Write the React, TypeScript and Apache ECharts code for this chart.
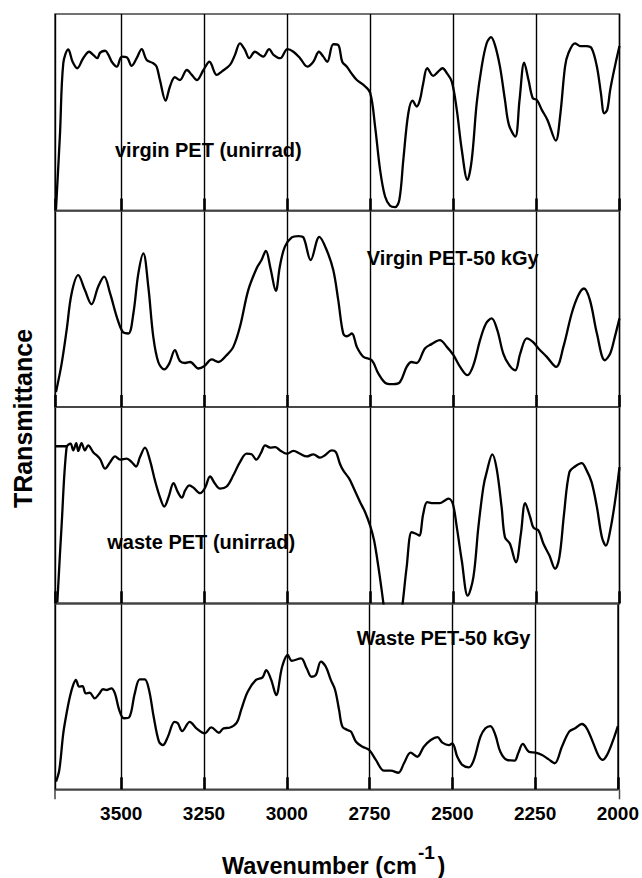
import React, { useEffect, useRef } from "react";
import * as echarts from "echarts";

// FTIR transmittance spectra, wavenumber (cm-1) vs relative transmittance (0-100 per panel)
const virginUnirrad: [number, number][] = [
  [3697, 0.7], [3685, 39], [3675, 75], [3660, 82], [3647, 75.7], [3633, 72.4], [3615, 77.5], [3597, 80.8],
  [3585, 79.2], [3573, 77.5], [3564, 80.3], [3549, 81.3], [3539, 79.2], [3529, 75.7], [3514, 73.2], [3499, 78.3],
  [3484, 78], [3469, 73.6], [3454, 77.5], [3439, 82.1], [3424, 76.6], [3404, 74.9], [3394, 73.2], [3384, 66.4],
  [3367, 55.9], [3354, 63], [3339, 67.8], [3324, 66.4], [3303, 71.5], [3288, 69], [3273, 66.4], [3253, 71.5],
  [3235, 75.7], [3213, 69], [3198, 70.7], [3173, 74.1], [3158, 79.2], [3143, 85.1], [3128, 81.7], [3115, 77.5],
  [3098, 80.8], [3083, 79.2], [3073, 78.3], [3055, 82.1], [3042, 79.2], [3022, 77.5], [3000, 82.1], [2982, 80.8],
  [2962, 77.5], [2940, 73.2], [2922, 75.7], [2905, 80.8], [2892, 78.3], [2880, 75.7], [2862, 84.6], [2847, 84.2],
  [2835, 75.7], [2821, 73.2], [2806, 69.5], [2791, 66.4], [2771, 63.9], [2751, 60], [2736, 42.7], [2721, 20.7],
  [2706, 7.1], [2691, 2.4], [2676, 1.7], [2663, 5.4], [2651, 25.8], [2636, 49.5], [2623, 55.9], [2611, 52.9],
  [2601, 56.3], [2591, 64.8], [2579, 72.4], [2561, 68.5], [2546, 70.7], [2533, 72.4], [2520, 69.9], [2505, 65.6],
  [2490, 51.2], [2475, 30.9], [2458, 15.6], [2445, 25.8], [2430, 54.6], [2415, 73.2], [2400, 85.1], [2387, 88.2],
  [2375, 84.2], [2360, 73.2], [2345, 56.3], [2333, 43.6], [2314, 37.6], [2301, 56.3], [2287, 75.2], [2274, 66.4],
  [2261, 57.1], [2249, 56.3], [2234, 51.2], [2217, 46.1], [2192, 35.6], [2179, 47.8], [2164, 73.2], [2154, 80],
  [2134, 85.1], [2119, 83.7], [2099, 83.7], [2084, 82.6], [2068, 73.2], [2056, 59.7], [2046, 49.5], [2037, 51.2],
  [2028, 61.4], [2014, 73.2], [2000, 83.7],
];

const virgin50kGy: [number, number][] = [
  [3697, 7.6], [3680, 22.1], [3665, 39.1], [3650, 57.8], [3630, 67.1], [3610, 59.5], [3590, 52.3], [3570, 61.2],
  [3552, 66.3], [3534, 57.8], [3514, 45.9], [3496, 38.2], [3479, 37.4], [3464, 47.6], [3449, 68], [3434, 78.2],
  [3419, 61.2], [3404, 35.7], [3389, 22.9], [3371, 19.1], [3356, 22.1], [3339, 28.9], [3324, 23.4], [3308, 22.4],
  [3293, 22.9], [3268, 19.6], [3251, 20.7], [3228, 24.2], [3208, 22.9], [3183, 26.4], [3163, 30.6], [3143, 40.8],
  [3118, 59.5], [3093, 70.5], [3078, 74.8], [3065, 79.5], [3051, 70.5], [3035, 59.1], [3023, 71.4], [3008, 81.5],
  [2987, 86.3], [2967, 87], [2952, 86.3], [2930, 74.8], [2904, 86.6], [2882, 79.9], [2862, 69.7], [2847, 54.4],
  [2832, 37.4], [2821, 36], [2806, 37.4], [2791, 30.6], [2771, 25.5], [2746, 23.8], [2726, 17], [2701, 11.9],
  [2681, 11.6], [2661, 12.7], [2641, 20.4], [2626, 22.9], [2611, 22.4], [2586, 29.8], [2566, 32], [2541, 34],
  [2520, 30.6], [2500, 26.4], [2480, 20.4], [2458, 16.2], [2440, 21.3], [2420, 34], [2402, 42.5], [2385, 45.1],
  [2368, 39.1], [2350, 27.2], [2332, 21.3], [2314, 18.7], [2299, 27.2], [2279, 34.9], [2261, 33.1], [2244, 29.8],
  [2219, 25.5], [2191, 20.4], [2169, 30.6], [2144, 47.6], [2124, 56.9], [2107, 60.3], [2089, 54.4], [2068, 37.4],
  [2044, 23.8], [2028, 27.2], [2014, 35.7], [2000, 45.1],
];

const wasteUnirrad: [number, number][] = [
  [3693, 0.5], [3680, 40], [3665, 79.6], [3653, 81.3], [3645, 77.9], [3636, 81.6], [3630, 77.6], [3620, 81.6],
  [3610, 77.9], [3600, 80.5], [3585, 77], [3565, 73.7], [3549, 68.6], [3534, 71.9], [3519, 74.8], [3504, 73.2],
  [3484, 73.7], [3469, 71.9], [3456, 69.7], [3444, 74.5], [3429, 79.3], [3414, 72.8], [3399, 62.6], [3384, 54.1],
  [3371, 49.3], [3358, 54.1], [3343, 61.2], [3330, 56.6], [3318, 53.8], [3308, 57.5], [3295, 60.1], [3283, 58.9],
  [3263, 56.1], [3248, 58.9], [3233, 64.6], [3218, 60.9], [3203, 58.4], [3183, 59.5], [3163, 65.2], [3143, 71.9],
  [3123, 76.2], [3108, 75.9], [3094, 73.2], [3080, 76.5], [3067, 80.5], [3052, 79.3], [3037, 79.6], [3022, 77.9],
  [3002, 76.2], [2982, 77.6], [2962, 76.2], [2942, 74.8], [2922, 75.9], [2902, 74.2], [2887, 75.4], [2867, 77.9],
  [2854, 77], [2842, 71.1], [2832, 67.7], [2814, 63.5], [2802, 59.2], [2781, 51.5], [2766, 46.4], [2751, 39.6],
  [2739, 32], [2726, 18.4], [2711, 0], [2697, -19], [2682, -29], [2667, -19], [2653, 0], [2641, 18.4],
  [2626, 36.2], [2613, 35.4], [2603, 34.5], [2591, 45.6], [2579, 51.5], [2561, 51], [2541, 51], [2526, 52.4],
  [2515, 53.3], [2502, 50.7], [2490, 38.8], [2475, 21.8], [2457, 3.9], [2440, 13.3], [2425, 38.8], [2410, 59.2],
  [2400, 66.8], [2383, 75.9], [2370, 68.6], [2355, 49], [2345, 33.7], [2330, 30.3], [2312, 20.9], [2297, 35.4],
  [2284, 51], [2269, 43.9], [2259, 38.5], [2244, 37.1], [2229, 30.3], [2211, 24.3], [2194, 17.6], [2181, 23.5],
  [2167, 45.6], [2151, 66.8], [2134, 69.7], [2114, 71.4], [2099, 67.7], [2084, 61.7], [2068, 49], [2053, 33.7],
  [2041, 29.4], [2028, 37.1], [2013, 52.4], [2000, 69.4],
];

// short flat segment at the start of the waste PET trace
const wasteUnirradStub: [number, number][] = [[3700, 80], [3662, 80]];

const waste50kGy: [number, number][] = [
  [3697, 4.1], [3687, 10.4], [3675, 30.1], [3665, 40.9], [3655, 49.8], [3645, 56.1], [3637, 58.8], [3627, 55.2],
  [3617, 55.5], [3607, 51.6], [3595, 51.9], [3580, 48.9], [3567, 51.2], [3555, 53.8], [3543, 53.4], [3530, 54.3],
  [3519, 51.6], [3506, 42.6], [3492, 38.2], [3476, 38.7], [3459, 51.6], [3444, 59.1], [3429, 59.1], [3416, 53.4],
  [3402, 39], [3386, 25.6], [3374, 23.8], [3359, 28.3], [3339, 36.3], [3329, 35.5], [3316, 31.3], [3293, 36.3],
  [3273, 32.8], [3248, 30.1], [3228, 33.3], [3205, 30.4], [3191, 32.8], [3173, 33.1], [3151, 35.8], [3138, 42.6],
  [3118, 52.5], [3093, 58.8], [3073, 60.2], [3062, 64.1], [3047, 58.8], [3032, 50.7], [3014, 65.9], [2997, 72.2],
  [2985, 69.1], [2957, 70.4], [2940, 65.1], [2925, 60.5], [2912, 61.5], [2897, 68.6], [2882, 65.9], [2867, 58.8],
  [2854, 53.4], [2842, 42.6], [2832, 33.7], [2817, 31.9], [2806, 31], [2791, 25.6], [2771, 22.9], [2751, 21.1],
  [2731, 15.8], [2706, 10], [2686, 10], [2663, 8.9], [2646, 14], [2626, 19.7], [2606, 17.5], [2586, 22.9],
  [2565, 26.5], [2545, 28], [2530, 25.1], [2510, 23.8], [2500, 24.7], [2485, 17.5], [2470, 13.1], [2450, 11.8],
  [2435, 15.8], [2415, 28.3], [2400, 32.8], [2385, 34], [2370, 29.2], [2355, 20.2], [2335, 15.8], [2312, 15.4],
  [2301, 19.4], [2287, 24.4], [2269, 20.2], [2249, 19.7], [2229, 18.4], [2209, 16.1], [2191, 14], [2169, 22.9],
  [2147, 31], [2129, 32.8], [2109, 35.1], [2094, 32.8], [2074, 24.7], [2058, 17.9], [2046, 15.8], [2033, 18.4],
  [2016, 25.6], [2000, 34],
];

const panelNames = ["virgin PET (unirrad)", "Virgin PET-50 kGy", "waste PET (unirrad)", "Waste PET-50 kGy"];
const WAVENUMBER_MIN = 2000;
const WAVENUMBER_MAX = 3700;
const WAVENUMBER_STEP = 250;

const FONT = "'Liberation Sans', Arial, Helvetica, sans-serif";
const GRID_LEFT = 55;
const GRID_RIGHT = 22.5;
const PANEL_TOPS = [14, 210.5, 407, 603.3];
const PANEL_HEIGHTS = [196.5, 196.5, 196.3, 186];
const LABEL_POS: [number, number][] = [[115, 150], [366.7, 258.3], [107.3, 541.7], [356.7, 638.3]];

export default function App() {
  const ref = useRef<HTMLDivElement>(null);

  useEffect(() => {
    if (!ref.current) return;
    const chart = echarts.init(ref.current, undefined, { renderer: "svg" });
    const spectra = [virginUnirrad, virgin50kGy, wasteUnirrad, waste50kGy];
    const last = spectra.length - 1;
    const bottom = PANEL_TOPS[last] + PANEL_HEIGHTS[last];
    const rightEdge = 642 - GRID_RIGHT;

    const grid = PANEL_TOPS.map((top, i) => ({
      left: GRID_LEFT,
      right: GRID_RIGHT,
      top,
      height: PANEL_HEIGHTS[i],
      show: true,
      borderColor: "#444",
      borderWidth: 1.5,
      backgroundColor: "transparent",
    }));

    const xAxis = PANEL_TOPS.map((_, i) => ({
      gridIndex: i,
      type: "value",
      position: "bottom",
      min: WAVENUMBER_MIN,
      max: WAVENUMBER_MAX,
      interval: WAVENUMBER_STEP,
      inverse: true,
      axisLine: { show: true, onZero: false, lineStyle: { color: "#444", width: 1.5 } },
      axisTick: { show: true, inside: true, length: 12, lineStyle: { color: "#000", width: 2.6 } },
      splitLine: { show: true, lineStyle: { color: "#000", width: 1.4 } },
      axisLabel: {
        show: i === last,
        showMaxLabel: false,
        showMinLabel: true,
        margin: 15,
        color: "#000",
        fontFamily: FONT,
        fontWeight: "bold",
        fontSize: 19,
        formatter: (v: number) => String(v),
      },
    }));

    const yAxis = PANEL_TOPS.map((_, i) => ({
      gridIndex: i,
      type: "value",
      min: 0,
      max: 100,
      show: false,
    }));

    const lineSeries = (data: [number, number][], i: number, name: string) => ({
      type: "line",
      name,
      xAxisIndex: i,
      yAxisIndex: i,
      data,
      symbol: "none",
      smooth: 0.35,
      clip: true,
      lineStyle: { color: "#000", width: 2.3 },
      z: 5,
    });

    const series = spectra.map((d, i) => lineSeries(d, i, panelNames[i]));
    series.push(lineSeries(wasteUnirradStub, 2, "stub"));

    const textStyle = (text: string, size: number, align: string) => ({
      text,
      fill: "#000",
      fontFamily: FONT,
      fontWeight: "bold",
      fontSize: size,
      align,
      verticalAlign: "middle",
      textAlign: align,
      textVerticalAlign: "middle",
    });

    const labelText = panelNames.map((name, i) => ({
      type: "text",
      x: LABEL_POS[i][0],
      y: LABEL_POS[i][1],
      z: 10,
      style: textStyle(name, 20, "left"),
    }));

    chart.setOption({
      animation: false,
      backgroundColor: "#fff",
      grid,
      xAxis,
      yAxis,
      series,
      graphic: [
        ...labelText,
        {
          type: "text",
          x: 23.3,
          y: 418.5,
          rotation: Math.PI / 2,
          style: textStyle("TRansmittance", 25, "center"),
        },
        // x-axis title: "Wavenumber (cm" with a raised "-1" and closing bracket
        { type: "text", x: 417, y: 866, style: textStyle("Wavenumber (cm", 23.5, "right") },
        { type: "text", x: 418, y: 852, style: textStyle("-1", 19, "left") },
        { type: "text", x: 437.5, y: 866, style: textStyle(")", 23.5, "left") },
        {
          type: "line",
          shape: { x1: GRID_LEFT, y1: bottom, x2: GRID_LEFT, y2: bottom + 10 },
          style: { stroke: "#444", lineWidth: 1.5 },
        },
        {
          type: "line",
          shape: { x1: rightEdge, y1: bottom, x2: rightEdge, y2: bottom + 10 },
          style: { stroke: "#444", lineWidth: 1.5 },
        },
      ],
    });

    return () => chart.dispose();
  }, []);

  return (
    <div
      ref={ref}
      style={{ position: "absolute", left: 0, top: 0, width: 642, height: 878, background: "#fff" }}
    />
  );
}
